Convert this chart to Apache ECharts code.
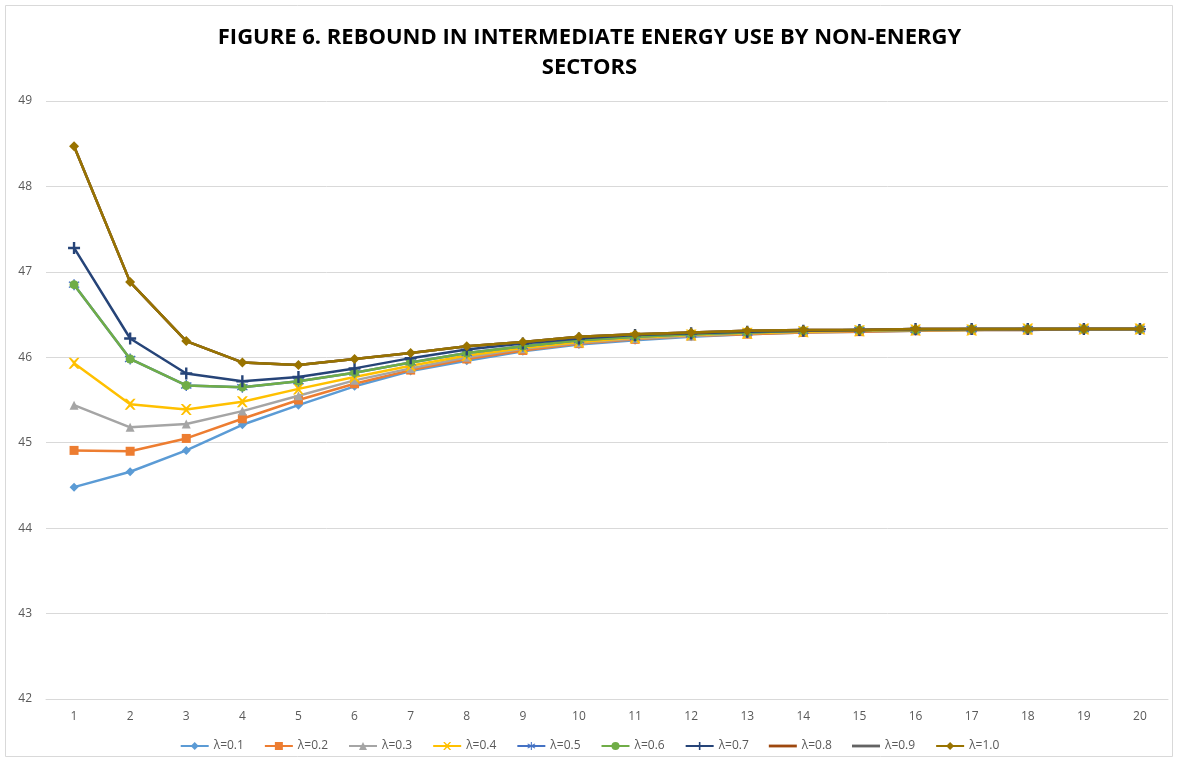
<!DOCTYPE html>
<html><head><meta charset="utf-8">
<script src="https://cdn.jsdelivr.net/npm/echarts@6/dist/echarts.min.js"></script>
<style>html,body{margin:0;padding:0;background:#fff}#c{width:1179px;height:762px}</style>
</head><body><div id="c"></div>
<script>
const categories = ['1','2','3','4','5','6','7','8','9','10','11','12','13','14','15','16','17','18','19','20'];
const seriesNames = ['λ=0.1','λ=0.2','λ=0.3','λ=0.4','λ=0.5','λ=0.6','λ=0.7','λ=0.8','λ=0.9','λ=1.0'];
const l01 = [44.48,44.66,44.91,45.21,45.44,45.66,45.84,45.96,46.07,46.15,46.20,46.24,46.27,46.29,46.30,46.31,46.32,46.32,46.33,46.33];
const l02 = [44.91,44.90,45.05,45.28,45.50,45.69,45.85,45.98,46.08,46.16,46.21,46.25,46.27,46.29,46.30,46.31,46.32,46.32,46.33,46.33];
const l03 = [45.44,45.18,45.22,45.37,45.55,45.73,45.87,46.00,46.10,46.17,46.22,46.25,46.28,46.30,46.31,46.32,46.32,46.33,46.33,46.33];
const l04 = [45.93,45.45,45.39,45.48,45.63,45.77,45.90,46.02,46.11,46.18,46.23,46.26,46.28,46.30,46.31,46.32,46.32,46.33,46.33,46.33];
const l05 = [46.85,45.98,45.67,45.65,45.72,45.82,45.94,46.05,46.13,46.20,46.24,46.27,46.29,46.31,46.32,46.32,46.33,46.33,46.33,46.33];
const l06 = [46.85,45.98,45.67,45.65,45.72,45.82,45.94,46.05,46.13,46.20,46.24,46.27,46.29,46.31,46.32,46.32,46.33,46.33,46.33,46.33];
const l07 = [47.28,46.22,45.81,45.72,45.77,45.87,45.99,46.09,46.16,46.22,46.26,46.28,46.30,46.31,46.32,46.33,46.33,46.33,46.33,46.33];
const l08 = [48.47,46.88,46.19,45.94,45.91,45.98,46.05,46.13,46.18,46.24,46.27,46.29,46.31,46.32,46.32,46.33,46.33,46.33,46.33,46.33];
const l09 = [48.47,46.88,46.19,45.94,45.91,45.98,46.05,46.13,46.18,46.24,46.27,46.29,46.31,46.32,46.32,46.33,46.33,46.33,46.33,46.33];
const l10 = [48.47,46.88,46.19,45.94,45.91,45.98,46.05,46.13,46.18,46.24,46.27,46.29,46.31,46.32,46.32,46.33,46.33,46.33,46.33,46.33];
const yTicks = [42,43,44,45,46,47,48,49];

const allData = [l01,l02,l03,l04,l05,l06,l07,l08,l09,l10];
const colors = ['#5B9BD5','#ED7D31','#A5A5A5','#FFC000','#4472C4','#70AD47','#264478','#9E480E','#636363','#997300'];
const xPath = 'path://M0,0 L2,0 L5,3 L8,0 L10,0 L6,5 L10,10 L8,10 L5,7 L2,10 L0,10 L4,5 Z';
const plusPath = 'path://M4,0 L6,0 L6,4 L10,4 L10,6 L6,6 L6,10 L4,10 L4,6 L0,6 L0,4 L4,4 Z';
const starPath = 'path://M4.4,0 L5.6,0 L5.6,3.9 L9.0,1.9 L9.6,2.9 L6.2,5 L9.6,7.1 L9.0,8.1 L5.6,6.1 L5.6,10 L4.4,10 L4.4,6.1 L1.0,8.1 L0.4,7.1 L3.8,5 L0.4,2.9 L1.0,1.9 L4.4,3.9 Z';
const linePath = 'path://M0,0 L30,0 L30,3 L0,3 Z';
const symbols = ['diamond','rect','triangle',xPath,starPath,'circle',plusPath,'none','none','diamond'];
const sizes = [9,9,9,11,11,9,12,0,0,10];

const chart = echarts.init(document.getElementById('c'));
chart.setOption({
  animation:false,
  backgroundColor:'#fff',
  title:{
    text:'FIGURE 6. REBOUND IN INTERMEDIATE ENERGY USE BY NON-ENERGY\nSECTORS',
    left:'center', top:18,
    textStyle:{fontFamily:'Open Sans',fontWeight:'bold',fontSize:22,color:'#000',lineHeight:30}
  },
  graphic:[{type:'rect',shape:{x:5.5,y:5.5,width:1167,height:751},style:{fill:'none',stroke:'#d9d9d9',lineWidth:1},silent:true}],
  legend:{
    bottom:5, left:'center', itemWidth:28, itemHeight:10, itemGap:20,
    textStyle:{fontFamily:'Open Sans',fontSize:12,color:'#595959'},
    data:seriesNames.map((n,i)=> symbols[i]==='none' ? {name:n, icon:linePath} : {name:n})
  },
  grid:{left:46,right:11,top:101,bottom:63},
  xAxis:{
    type:'category', data:categories, boundaryGap:true,
    axisLine:{lineStyle:{color:'#d9d9d9'}}, axisTick:{show:false},
    axisLabel:{color:'#595959',fontFamily:'Open Sans',fontSize:12,margin:12}
  },
  yAxis:{
    type:'value', min:yTicks[0], max:yTicks[yTicks.length-1], interval:1,
    axisLine:{show:false}, axisTick:{show:false},
    splitLine:{lineStyle:{color:'#d9d9d9'}},
    axisLabel:{color:'#595959',fontFamily:'Open Sans',fontSize:12,margin:14}
  },
  series: seriesNames.map((n,i)=>({
    name:n, type:'line', data:allData[i],
    symbol:symbols[i], symbolSize:sizes[i], showSymbol:symbols[i]!=='none',
    lineStyle:{color:colors[i],width:2.5},
    itemStyle:{color:colors[i]},
    z:2+i
  }))
});
</script></body></html>
